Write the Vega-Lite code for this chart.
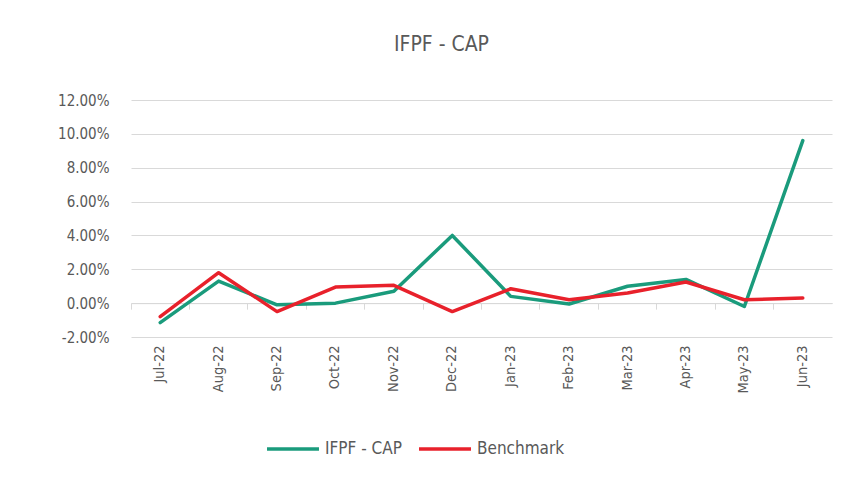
{
  "$schema": "https://vega.github.io/schema/vega-lite/v6.json",
  "width": 701,
  "height": 237,
  "autosize": {"type": "none"},
  "padding": {"left": 131, "top": 100, "right": 19, "bottom": 144},
  "background": "white",
  "title": {
    "text": "IFPF - CAP",
    "fontSize": 21,
    "font": "Liberation Sans Narrow, DejaVu Sans Condensed, sans-serif",
    "fontWeight": "normal",
    "color": "#595959",
    "anchor": "middle",
    "frame": "group",
    "dx": -40,
    "offset": 38
  },
  "config": {
    "view": {"stroke": null},
    "locale": {"number": {"decimal": ".", "thousands": ",", "grouping": [3], "currency": ["$", ""], "minus": "-"}},
    "font": "Liberation Sans Narrow, DejaVu Sans Condensed, sans-serif",
    "axis": {"labelColor": "#595959", "labelFont": "Liberation Sans Narrow, DejaVu Sans Condensed, sans-serif"}
  },
  "data": {
    "values": [
      {"month": "Jul-22", "series": "IFPF - CAP", "value": -0.0115},
      {"month": "Aug-22", "series": "IFPF - CAP", "value": 0.013},
      {"month": "Sep-22", "series": "IFPF - CAP", "value": -0.001},
      {"month": "Oct-22", "series": "IFPF - CAP", "value": 0.0},
      {"month": "Nov-22", "series": "IFPF - CAP", "value": 0.007},
      {"month": "Dec-22", "series": "IFPF - CAP", "value": 0.040},
      {"month": "Jan-23", "series": "IFPF - CAP", "value": 0.004},
      {"month": "Feb-23", "series": "IFPF - CAP", "value": -0.0005},
      {"month": "Mar-23", "series": "IFPF - CAP", "value": 0.010},
      {"month": "Apr-23", "series": "IFPF - CAP", "value": 0.014},
      {"month": "May-23", "series": "IFPF - CAP", "value": -0.002},
      {"month": "Jun-23", "series": "IFPF - CAP", "value": 0.096},
      {"month": "Jul-22", "series": "Benchmark", "value": -0.008},
      {"month": "Aug-22", "series": "Benchmark", "value": 0.018},
      {"month": "Sep-22", "series": "Benchmark", "value": -0.005},
      {"month": "Oct-22", "series": "Benchmark", "value": 0.0095},
      {"month": "Nov-22", "series": "Benchmark", "value": 0.0105},
      {"month": "Dec-22", "series": "Benchmark", "value": -0.005},
      {"month": "Jan-23", "series": "Benchmark", "value": 0.0085},
      {"month": "Feb-23", "series": "Benchmark", "value": 0.002},
      {"month": "Mar-23", "series": "Benchmark", "value": 0.006},
      {"month": "Apr-23", "series": "Benchmark", "value": 0.0125},
      {"month": "May-23", "series": "Benchmark", "value": 0.002},
      {"month": "Jun-23", "series": "Benchmark", "value": 0.003}
    ]
  },
  "encoding": {
    "y": {
      "field": "value", "type": "quantitative",
      "scale": {"domain": [-0.02, 0.12], "nice": false, "zero": false},
      "axis": {
        "title": null, "format": ".2%", "values": [-0.02, 0, 0.02, 0.04, 0.06, 0.08, 0.1, 0.12],
        "domain": false, "ticks": false, "gridColor": "#d9d9d9", "gridWidth": 1,
        "labelFontSize": 15, "labelPadding": 22, "labelOverlap": false
      }
    }
  },
  "resolve": {"axis": {"x": "independent"}},
  "layer": [
    {
      "mark": {"type": "line", "strokeWidth": 3.5, "strokeCap": "round", "strokeJoin": "round"},
      "encoding": {
        "x": {
          "field": "month", "type": "nominal", "sort": null,
          "scale": {"type": "band", "paddingInner": 0, "paddingOuter": 0},
          "axis": {
            "title": null, "domain": false, "ticks": false, "labelAngle": -90,
            "labelAlign": "right", "labelBaseline": "middle", "labelFontSize": 14.5,
            "labelPadding": 8, "orient": "bottom"
          }
        },
        "color": {
          "field": "series", "type": "nominal",
          "scale": {"domain": ["IFPF - CAP", "Benchmark"], "range": ["#1a9b7c", "#e8212b"]},
          "legend": {
            "title": null, "orient": "none", "legendX": 134, "legendY": 321,
            "direction": "horizontal", "symbolType": "stroke", "symbolSize": 2700,
            "symbolStrokeWidth": 3.5, "labelFontSize": 17, "labelColor": "#595959",
            "columnSpacing": 30, "labelOffset": 4
          }
        }
      }
    },
    {
      "mark": {"type": "line", "opacity": 0},
      "encoding": {
        "x": {
          "field": "month", "type": "nominal", "sort": null,
          "axis": {
            "title": null, "labels": false, "domain": true, "domainColor": "#d9d9d9",
            "ticks": true, "tickColor": "#d9d9d9", "tickSize": 6, "bandPosition": 0,
            "offset": -33.86, "grid": false, "orient": "bottom"
          }
        }
      }
    }
  ]
}
